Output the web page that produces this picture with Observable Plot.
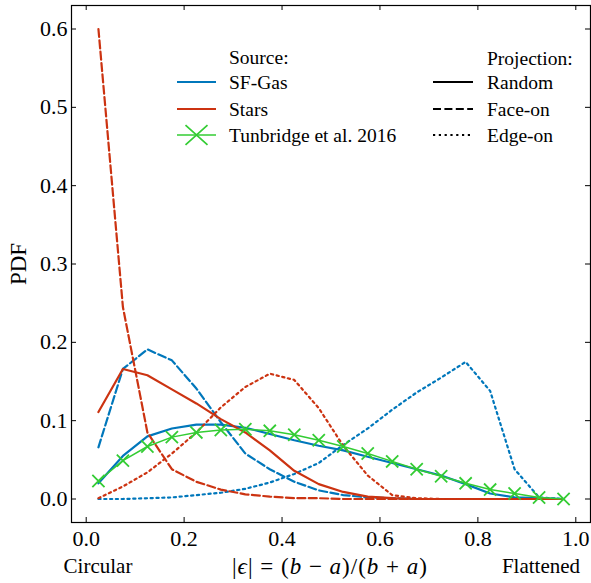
<!DOCTYPE html>
<html><head><meta charset="utf-8">
<script src="https://cdn.jsdelivr.net/npm/d3@7"></script>
<script src="https://cdn.jsdelivr.net/npm/@observablehq/plot@0.6"></script>
<style>
body{margin:0;background:#fff;}
#wrap{position:relative;width:591px;height:583px;font-family:"Liberation Serif",serif;}
#wrap svg{position:absolute;left:0;top:0;}
</style></head><body><div id="wrap"></div>
<script>
// bin centres of |epsilon|
const eps = [0.025,0.075,0.125,0.175,0.225,0.275,0.325,0.375,0.425,0.475,0.525,0.575,0.625,0.675,0.725,0.775,0.825,0.875,0.925,0.975];
// SF-Gas
const gasRandom = [0.020,0.055,0.080,0.090,0.095,0.095,0.091,0.083,0.075,0.068,0.062,0.054,0.046,0.038,0.030,0.019,0.007,0.002,0.001,0.000];
const gasFaceOn = [0.066,0.166,0.191,0.177,0.141,0.098,0.058,0.038,0.022,0.011,0.005,0.002,0.001,0,0,0,0,0,0,0];
const gasEdgeOn = [0.000,0.000,0.001,0.002,0.005,0.008,0.013,0.021,0.032,0.046,0.069,0.090,0.114,0.136,0.155,0.175,0.138,0.038,0.002,0.000];
// Stars
const starsRandom = [0.111,0.166,0.158,0.140,0.122,0.102,0.085,0.062,0.036,0.019,0.009,0.003,0.001,0,0,0,0,0,0,0];
const starsFaceOn = [0.600,0.245,0.085,0.038,0.022,0.012,0.006,0.003,0.001,0.001,0,0,0,0,0,0,0,0,0,0];
const starsEdgeOn = [0.001,0.016,0.034,0.058,0.085,0.117,0.143,0.160,0.152,0.116,0.068,0.030,0.005,0.001,0,0,0,0,0,0];
// Tunbridge et al. 2016
const tunbridge = [0.023,0.049,0.067,0.079,0.085,0.088,0.089,0.087,0.082,0.075,0.067,0.058,0.048,0.038,0.029,0.020,0.012,0.007,0.002,0.000];

const xTicks = [0.0,0.2,0.4,0.6,0.8,1.0];
const yTicks = [0.0,0.1,0.2,0.3,0.4,0.5,0.6];
const sourceNames = ["SF-Gas","Stars","Tunbridge et al. 2016"];
const projNames = ["Random","Face-on","Edge-on"];
const colors = {"SF-Gas":"#0077BB","Stars":"#CC3311","Tunbridge et al. 2016":"#33CC33"};
const dashes = {"Random":null,"Face-on":"8,3.4","Edge-on":"2.2,3.6"};

const series = [
  {source:"SF-Gas", proj:"Random", vals:gasRandom},
  {source:"SF-Gas", proj:"Face-on", vals:gasFaceOn},
  {source:"SF-Gas", proj:"Edge-on", vals:gasEdgeOn},
  {source:"Stars", proj:"Random", vals:starsRandom},
  {source:"Stars", proj:"Face-on", vals:starsFaceOn},
  {source:"Stars", proj:"Edge-on", vals:starsEdgeOn}
];
const tunRows = eps.map((e,i)=>({x:e,y:tunbridge[i]}));

const W=591,H=583,mL=71,mR=1,mT=5,mB=61;
const fW=W-mL-mR, fH=H-mT-mB, tl=5;

const marks = [];
for (const s of series) {
  const rows = eps.map((e,i)=>({x:e,y:s.vals[i]}));
  marks.push(Plot.line(rows,{x:"x",y:"y",stroke:colors[s.source],strokeWidth:2.2,strokeDasharray:dashes[s.proj],strokeLinejoin:"round"}));
}
marks.push(Plot.line(tunRows,{x:"x",y:"y",stroke:colors["Tunbridge et al. 2016"],strokeWidth:1.5}));
marks.push(Plot.dot(tunRows,{x:"x",y:"y",symbol:"times",r:5.6,stroke:colors["Tunbridge et al. 2016"],strokeWidth:1.8}));
// inward ticks on all sides
marks.push(Plot.tickX(xTicks,{x:d=>d,insetTop:fH-tl,stroke:"black",strokeWidth:1}));
marks.push(Plot.tickX(xTicks,{x:d=>d,insetBottom:fH-tl,stroke:"black",strokeWidth:1}));
marks.push(Plot.tickY(yTicks,{y:d=>d,insetRight:fW-tl,stroke:"black",strokeWidth:1}));
marks.push(Plot.tickY(yTicks,{y:d=>d,insetLeft:fW-tl,stroke:"black",strokeWidth:1}));
marks.push(Plot.axisX({ticks:xTicks,tickSize:0,tickPadding:8,tickFormat:d3.format(".1f"),label:null,fontSize:22,fill:"black"}));
marks.push(Plot.axisY({ticks:yTicks,tickSize:0,tickPadding:4,tickFormat:d3.format(".1f"),label:null,fontSize:22,fill:"black"}));
marks.push(Plot.frame({stroke:"black",strokeWidth:1.2}));

const chart = Plot.plot({
  width:W,height:H,marginLeft:mL,marginRight:mR,marginTop:mT,marginBottom:mB,
  x:{domain:[-0.03,1.03]},
  y:{domain:[-0.03,0.63]},
  style:{fontFamily:"Liberation Serif, serif",fontSize:"22px",background:"white",color:"black"},
  marks
});
const wrap = document.getElementById("wrap");
wrap.appendChild(chart);

// overlay: legend and axis titles
const ov = d3.select(wrap).append("svg").attr("width",W).attr("height",H)
  .style("font-family","Liberation Serif, serif").style("pointer-events","none");
const lf = 19.5;
const srcX0=177, srcX1=216, srcTx=229, rowY=[82,109,135];
ov.append("text").attr("x",srcTx).attr("y",57).attr("dy","0.35em").attr("font-size",lf).text("Source:");
sourceNames.forEach((n,i)=>{
  const y=rowY[i];
  ov.append("line").attr("x1",srcX0).attr("x2",srcX1).attr("y1",y).attr("y2",y)
    .attr("stroke",colors[n]).attr("stroke-width",i===2?1.6:2.2);
  if(i===2){
    const cx=(srcX0+srcX1)/2, r=11;
    ov.append("path").attr("d",`M${cx-r},${y-r*0.9}L${cx+r},${y+r*0.9}M${cx-r},${y+r*0.9}L${cx+r},${y-r*0.9}`)
      .attr("stroke",colors[n]).attr("stroke-width",1.7).attr("fill","none");
  }
  ov.append("text").attr("x",srcTx).attr("y",y).attr("dy","0.35em").attr("font-size",lf).text(n);
});
const pX0=433,pX1=473,pTx=487;
ov.append("text").attr("x",pTx).attr("y",58).attr("dy","0.35em").attr("font-size",lf).text("Projection:");
projNames.forEach((n,i)=>{
  const y=rowY[i];
  ov.append("line").attr("x1",pX0).attr("x2",pX1).attr("y1",y).attr("y2",y)
    .attr("stroke","black").attr("stroke-width",2.2).attr("stroke-dasharray",dashes[n]);
  ov.append("text").attr("x",pTx).attr("y",y).attr("dy","0.35em").attr("font-size",lf).text(n);
});
// y label
ov.append("text").attr("transform","translate(18,264) rotate(-90)").attr("text-anchor","middle")
  .attr("dy","0.35em").attr("font-size",23).text("PDF");
// x label
const xl = ov.append("text").attr("x",330).attr("y",566).attr("dy","0.35em").attr("text-anchor","middle")
  .attr("font-size",23).attr("letter-spacing","1px");
[["|",0],["ϵ",1],["| = (",0],["b",1],[" − ",0],["a",1],[")/(",0],["b",1],[" + ",0],["a",1],[")",0]].forEach(([t,it])=>{
  xl.append("tspan").attr("font-style",it?"italic":null).text(t);
});
ov.append("text").attr("x",98).attr("y",566).attr("dy","0.35em").attr("text-anchor","middle").attr("font-size",21).text("Circular");
ov.append("text").attr("x",541).attr("y",566).attr("dy","0.35em").attr("text-anchor","middle").attr("font-size",21).text("Flattened");
</script></body></html>
